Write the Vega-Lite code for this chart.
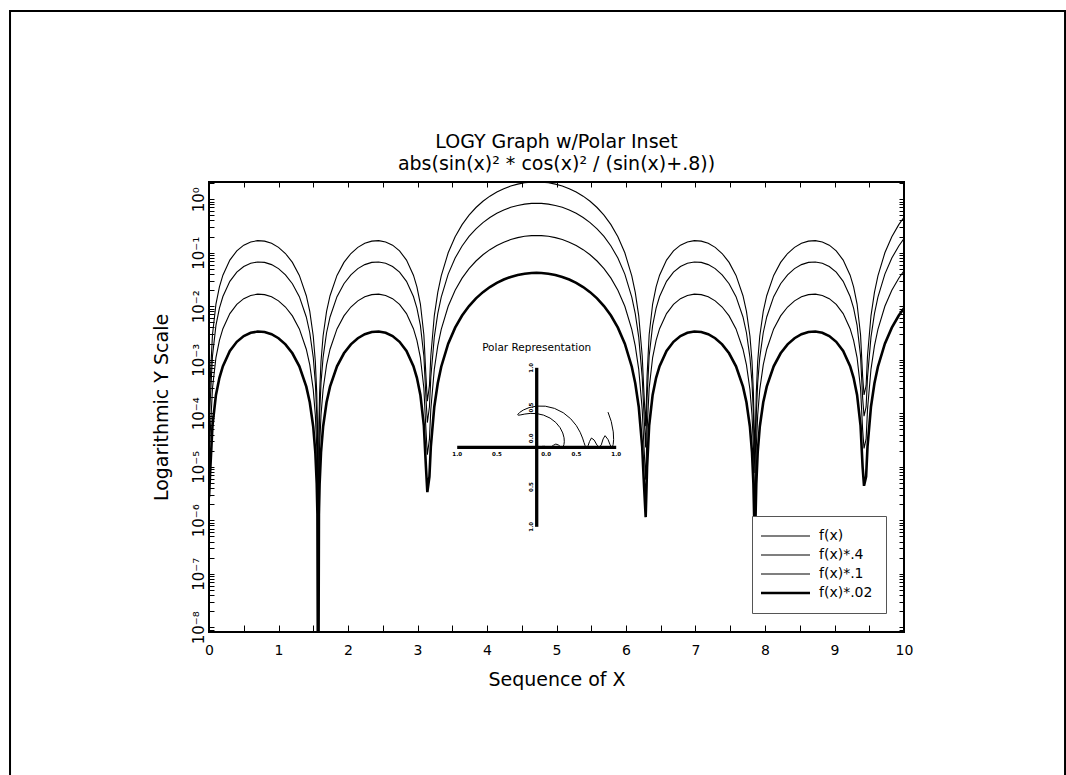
{
  "$schema": "https://vega.github.io/schema/vega-lite/v6.json",
  "width": 695,
  "height": 450,
  "autosize": {"type": "none"},
  "padding": {"left": 209, "top": 182, "right": 162, "bottom": 143},
  "background": "white",
  "config": {
    "view": {"stroke": "black", "strokeWidth": 2},
    "font": "DejaVu Sans",
    "axis": {"grid": false, "domain": false, "tickColor": "black", "tickWidth": 1, "labelColor": "black", "titleColor": "black", "titleFontWeight": "normal", "labelFont": "DejaVu Sans", "titleFont": "DejaVu Sans"},
    "text": {"font": "DejaVu Sans", "color": "black"}
  },
  "title": {
    "text": ["LOGY Graph w/Polar Inset", "abs(sin(x)² * cos(x)² / (sin(x)+.8))"],
    "fontSize": 19, "font": "DejaVu Sans", "fontWeight": "normal", "color": "black",
    "lineHeight": 22, "offset": -164, "anchor": "middle", "frame": "group"
  },
  "datasets": {
    "main": [
      {"x":0,"a":1.35e-4,"b":5.4e-5,"c":1.35e-5,"d":2.7e-6},
      {"x":0.02,"a":4.88e-4,"b":1.952e-4,"c":4.88e-5,"d":9.76e-6},
      {"x":0.05,"a":0.002932,"b":0.001173,"c":2.932e-4,"d":5.864e-5},
      {"x":0.1,"a":0.01097,"b":0.004386,"c":0.001097,"d":2.193e-4},
      {"x":0.15,"a":0.023,"b":0.0092,"c":0.0023,"d":4.6e-4},
      {"x":0.2,"a":0.03796,"b":0.01519,"c":0.003796,"d":7.593e-4},
      {"x":0.3,"a":0.07276,"b":0.0291,"c":0.007276,"d":0.001455},
      {"x":0.4,"a":0.1082,"b":0.04326,"c":0.01082,"d":0.002163},
      {"x":0.5,"a":0.1384,"b":0.05534,"c":0.01384,"d":0.002767},
      {"x":0.6,"a":0.1591,"b":0.06366,"c":0.01591,"d":0.003183},
      {"x":0.7,"a":0.1681,"b":0.06724,"c":0.01681,"d":0.003362},
      {"x":0.8,"a":0.1646,"b":0.06585,"c":0.01646,"d":0.003292},
      {"x":0.9,"a":0.1497,"b":0.0599,"c":0.01497,"d":0.002995},
      {"x":1.0,"a":0.1259,"b":0.05037,"c":0.01259,"d":0.002519},
      {"x":1.1,"a":0.09663,"b":0.03865,"c":0.009663,"d":0.001933},
      {"x":1.2,"a":0.06586,"b":0.02634,"c":0.006586,"d":0.001317},
      {"x":1.3,"a":0.03767,"b":0.01507,"c":0.003767,"d":7.534e-4},
      {"x":1.4,"a":0.01571,"b":0.006285,"c":0.001571,"d":3.143e-4},
      {"x":1.45,"a":0.007986,"b":0.003194,"c":7.986e-4,"d":1.597e-4},
      {"x":1.5,"a":0.00277,"b":0.001108,"c":2.77e-4,"d":5.54e-5},
      {"x":1.53,"a":9.23e-4,"b":3.692e-4,"c":9.23e-5,"d":1.846e-5},
      {"x":1.55,"a":2.401e-4,"b":9.604e-5,"c":2.401e-5,"d":4.802e-6},
      {"x":1.56,"a":6.47e-5,"b":2.588e-5,"c":6.47e-6,"d":1.294e-6},
      {"x":1.5708,"a":1e-9,"b":4e-10,"c":1e-10,"d":2e-11},
      {"x":1.5816,"a":6.47e-5,"b":2.588e-5,"c":6.47e-6,"d":1.294e-6},
      {"x":1.5916,"a":2.401e-4,"b":9.604e-5,"c":2.401e-5,"d":4.802e-6},
      {"x":1.6116,"a":9.23e-4,"b":3.692e-4,"c":9.23e-5,"d":1.846e-5},
      {"x":1.6416,"a":0.00277,"b":0.001108,"c":2.77e-4,"d":5.54e-5},
      {"x":1.6916,"a":0.007986,"b":0.003194,"c":7.986e-4,"d":1.597e-4},
      {"x":1.7416,"a":0.01571,"b":0.006285,"c":0.001571,"d":3.143e-4},
      {"x":1.8416,"a":0.03767,"b":0.01507,"c":0.003767,"d":7.534e-4},
      {"x":1.9416,"a":0.06586,"b":0.02634,"c":0.006586,"d":0.001317},
      {"x":2.0416,"a":0.09663,"b":0.03865,"c":0.009663,"d":0.001933},
      {"x":2.1416,"a":0.1259,"b":0.05037,"c":0.01259,"d":0.002519},
      {"x":2.2416,"a":0.1497,"b":0.0599,"c":0.01497,"d":0.002995},
      {"x":2.3416,"a":0.1646,"b":0.06585,"c":0.01646,"d":0.003292},
      {"x":2.4416,"a":0.1681,"b":0.06724,"c":0.01681,"d":0.003362},
      {"x":2.5416,"a":0.1591,"b":0.06366,"c":0.01591,"d":0.003183},
      {"x":2.6416,"a":0.1384,"b":0.05534,"c":0.01384,"d":0.002767},
      {"x":2.7416,"a":0.1082,"b":0.04326,"c":0.01082,"d":0.002163},
      {"x":2.8416,"a":0.07276,"b":0.0291,"c":0.007276,"d":0.001455},
      {"x":2.9416,"a":0.03796,"b":0.01519,"c":0.003796,"d":7.593e-4},
      {"x":2.9916,"a":0.023,"b":0.0092,"c":0.0023,"d":4.6e-4},
      {"x":3.0416,"a":0.01097,"b":0.004386,"c":0.001097,"d":2.193e-4},
      {"x":3.0916,"a":0.002932,"b":0.001173,"c":2.932e-4,"d":5.864e-5},
      {"x":3.1216,"a":4.88e-4,"b":1.952e-4,"c":4.88e-5,"d":9.76e-6},
      {"x":3.1416,"a":1.67e-4,"b":6.68e-5,"c":1.67e-5,"d":3.34e-6},
      {"x":3.1716,"a":3.27e-4,"b":1.308e-4,"c":3.27e-5,"d":6.54e-6},
      {"x":3.1916,"a":0.001173,"b":4.692e-4,"c":1.173e-4,"d":2.346e-5},
      {"x":3.2416,"a":0.006613,"b":0.002645,"c":6.613e-4,"d":1.323e-4},
      {"x":3.2916,"a":0.01813,"b":0.007252,"c":0.001813,"d":3.626e-4},
      {"x":3.3416,"a":0.03695,"b":0.01478,"c":0.003695,"d":7.39e-4},
      {"x":3.4416,"a":0.0997,"b":0.03988,"c":0.00997,"d":0.001994},
      {"x":3.5416,"a":0.1987,"b":0.07949,"c":0.01987,"d":0.003975},
      {"x":3.6416,"a":0.3342,"b":0.1337,"c":0.03342,"d":0.006684},
      {"x":3.7416,"a":0.5031,"b":0.2012,"c":0.05031,"d":0.01006},
      {"x":3.8416,"a":0.6995,"b":0.2798,"c":0.06995,"d":0.01399},
      {"x":3.9416,"a":0.9153,"b":0.3661,"c":0.09153,"d":0.01831},
      {"x":4.0416,"a":1.14,"b":0.4562,"c":0.114,"d":0.02281},
      {"x":4.1416,"a":1.364,"b":0.5456,"c":0.1364,"d":0.02728},
      {"x":4.2416,"a":1.575,"b":0.6298,"c":0.1575,"d":0.03149},
      {"x":4.3416,"a":1.761,"b":0.7045,"c":0.1761,"d":0.03522},
      {"x":4.4416,"a":1.914,"b":0.7656,"c":0.1914,"d":0.03828},
      {"x":4.5416,"a":2.024,"b":0.8098,"c":0.2024,"d":0.04049},
      {"x":4.6416,"a":2.087,"b":0.8347,"c":0.2087,"d":0.04174},
      {"x":4.7124,"a":2.1,"b":0.84,"c":0.21,"d":0.042},
      {"x":4.7832,"a":2.087,"b":0.8347,"c":0.2087,"d":0.04174},
      {"x":4.8832,"a":2.024,"b":0.8098,"c":0.2024,"d":0.04049},
      {"x":4.9832,"a":1.914,"b":0.7656,"c":0.1914,"d":0.03828},
      {"x":5.0832,"a":1.761,"b":0.7045,"c":0.1761,"d":0.03522},
      {"x":5.1832,"a":1.575,"b":0.6298,"c":0.1575,"d":0.03149},
      {"x":5.2832,"a":1.364,"b":0.5456,"c":0.1364,"d":0.02728},
      {"x":5.3832,"a":1.14,"b":0.4562,"c":0.114,"d":0.02281},
      {"x":5.4832,"a":0.9153,"b":0.3661,"c":0.09153,"d":0.01831},
      {"x":5.5832,"a":0.6995,"b":0.2798,"c":0.06995,"d":0.01399},
      {"x":5.6832,"a":0.5031,"b":0.2012,"c":0.05031,"d":0.01006},
      {"x":5.7832,"a":0.3342,"b":0.1337,"c":0.03342,"d":0.006684},
      {"x":5.8832,"a":0.1987,"b":0.07949,"c":0.01987,"d":0.003975},
      {"x":5.9832,"a":0.0997,"b":0.03988,"c":0.00997,"d":0.001994},
      {"x":6.0832,"a":0.03695,"b":0.01478,"c":0.003695,"d":7.39e-4},
      {"x":6.1332,"a":0.01813,"b":0.007252,"c":0.001813,"d":3.626e-4},
      {"x":6.1832,"a":0.006613,"b":0.002645,"c":6.613e-4,"d":1.323e-4},
      {"x":6.2332,"a":0.001173,"b":4.692e-4,"c":1.173e-4,"d":2.346e-5},
      {"x":6.2532,"a":3.27e-4,"b":1.308e-4,"c":3.27e-5,"d":6.54e-6},
      {"x":6.2832,"a":5.7e-5,"b":2.28e-5,"c":5.7e-6,"d":1.14e-6},
      {"x":6.3032,"a":4.88e-4,"b":1.952e-4,"c":4.88e-5,"d":9.76e-6},
      {"x":6.3332,"a":0.002932,"b":0.001173,"c":2.932e-4,"d":5.864e-5},
      {"x":6.3832,"a":0.01097,"b":0.004386,"c":0.001097,"d":2.193e-4},
      {"x":6.4332,"a":0.023,"b":0.0092,"c":0.0023,"d":4.6e-4},
      {"x":6.4832,"a":0.03796,"b":0.01519,"c":0.003796,"d":7.593e-4},
      {"x":6.5832,"a":0.07276,"b":0.0291,"c":0.007276,"d":0.001455},
      {"x":6.6832,"a":0.1082,"b":0.04326,"c":0.01082,"d":0.002163},
      {"x":6.7832,"a":0.1384,"b":0.05534,"c":0.01384,"d":0.002767},
      {"x":6.8832,"a":0.1591,"b":0.06366,"c":0.01591,"d":0.003183},
      {"x":6.9832,"a":0.1681,"b":0.06724,"c":0.01681,"d":0.003362},
      {"x":7.0832,"a":0.1646,"b":0.06585,"c":0.01646,"d":0.003292},
      {"x":7.1832,"a":0.1497,"b":0.0599,"c":0.01497,"d":0.002995},
      {"x":7.2832,"a":0.1259,"b":0.05037,"c":0.01259,"d":0.002519},
      {"x":7.3832,"a":0.09663,"b":0.03865,"c":0.009663,"d":0.001933},
      {"x":7.4832,"a":0.06586,"b":0.02634,"c":0.006586,"d":0.001317},
      {"x":7.5832,"a":0.03767,"b":0.01507,"c":0.003767,"d":7.534e-4},
      {"x":7.6832,"a":0.01571,"b":0.006285,"c":0.001571,"d":3.143e-4},
      {"x":7.7332,"a":0.007986,"b":0.003194,"c":7.986e-4,"d":1.597e-4},
      {"x":7.7832,"a":0.00277,"b":0.001108,"c":2.77e-4,"d":5.54e-5},
      {"x":7.8132,"a":9.23e-4,"b":3.692e-4,"c":9.23e-5,"d":1.846e-5},
      {"x":7.8332,"a":2.401e-4,"b":9.604e-5,"c":2.401e-5,"d":4.802e-6},
      {"x":7.8432,"a":6.47e-5,"b":2.588e-5,"c":6.47e-6,"d":1.294e-6},
      {"x":7.854,"a":1.9e-5,"b":7.6e-6,"c":1.9e-6,"d":3.8e-7},
      {"x":7.8648,"a":6.47e-5,"b":2.588e-5,"c":6.47e-6,"d":1.294e-6},
      {"x":7.8748,"a":2.401e-4,"b":9.604e-5,"c":2.401e-5,"d":4.802e-6},
      {"x":7.8948,"a":9.23e-4,"b":3.692e-4,"c":9.23e-5,"d":1.846e-5},
      {"x":7.9248,"a":0.00277,"b":0.001108,"c":2.77e-4,"d":5.54e-5},
      {"x":7.9748,"a":0.007986,"b":0.003194,"c":7.986e-4,"d":1.597e-4},
      {"x":8.0248,"a":0.01571,"b":0.006285,"c":0.001571,"d":3.143e-4},
      {"x":8.1248,"a":0.03767,"b":0.01507,"c":0.003767,"d":7.534e-4},
      {"x":8.2248,"a":0.06586,"b":0.02634,"c":0.006586,"d":0.001317},
      {"x":8.3248,"a":0.09663,"b":0.03865,"c":0.009663,"d":0.001933},
      {"x":8.4248,"a":0.1259,"b":0.05037,"c":0.01259,"d":0.002519},
      {"x":8.5248,"a":0.1497,"b":0.0599,"c":0.01497,"d":0.002995},
      {"x":8.6248,"a":0.1646,"b":0.06585,"c":0.01646,"d":0.003292},
      {"x":8.7248,"a":0.1681,"b":0.06724,"c":0.01681,"d":0.003362},
      {"x":8.8248,"a":0.1591,"b":0.06366,"c":0.01591,"d":0.003183},
      {"x":8.9248,"a":0.1384,"b":0.05534,"c":0.01384,"d":0.002767},
      {"x":9.0248,"a":0.1082,"b":0.04326,"c":0.01082,"d":0.002163},
      {"x":9.1248,"a":0.07276,"b":0.0291,"c":0.007276,"d":0.001455},
      {"x":9.2248,"a":0.03796,"b":0.01519,"c":0.003796,"d":7.593e-4},
      {"x":9.2748,"a":0.023,"b":0.0092,"c":0.0023,"d":4.6e-4},
      {"x":9.3248,"a":0.01097,"b":0.004386,"c":0.001097,"d":2.193e-4},
      {"x":9.3748,"a":0.002932,"b":0.001173,"c":2.932e-4,"d":5.864e-5},
      {"x":9.4048,"a":4.88e-4,"b":1.952e-4,"c":4.88e-5,"d":9.76e-6},
      {"x":9.4248,"a":2.2e-4,"b":8.8e-5,"c":2.2e-5,"d":4.4e-6},
      {"x":9.4548,"a":3.27e-4,"b":1.308e-4,"c":3.27e-5,"d":6.54e-6},
      {"x":9.4748,"a":0.001173,"b":4.692e-4,"c":1.173e-4,"d":2.346e-5},
      {"x":9.5248,"a":0.006613,"b":0.002645,"c":6.613e-4,"d":1.323e-4},
      {"x":9.5748,"a":0.01813,"b":0.007252,"c":0.001813,"d":3.626e-4},
      {"x":9.6248,"a":0.03695,"b":0.01478,"c":0.003695,"d":7.39e-4},
      {"x":9.7248,"a":0.0997,"b":0.03988,"c":0.00997,"d":0.001994},
      {"x":9.8248,"a":0.1987,"b":0.07949,"c":0.01987,"d":0.003975},
      {"x":9.9248,"a":0.3342,"b":0.1337,"c":0.03342,"d":0.006684},
      {"x":10,"a":0.4584,"b":0.1834,"c":0.04584,"d":0.009168}
    ],
    "polar": [
      {"i":0,"px":0,"py":0},{"i":1,"px":0.02,"py":0.0008},{"i":2,"px":0.0398,"py":0.0043},
      {"i":3,"px":0.069,"py":0.0118},{"i":4,"px":0.0992,"py":0.0126},{"i":5,"px":0.13,"py":0.0049},
      {"i":6,"px":0.157,"py":0},{"i":7,"px":0.184,"py":0.0069},{"i":8,"px":0.2123,"py":0.027},
      {"i":9,"px":0.2406,"py":0.041},{"i":10,"px":0.2724,"py":0.0296},{"i":11,"px":0.2938,"py":0.0112},
      {"i":12,"px":0.3142,"py":0},{"i":13,"px":0.3241,"py":0.0021},{"i":14,"px":0.3339,"py":0.0124},
      {"i":15,"px":0.3424,"py":0.0343},{"i":16,"px":0.3472,"py":0.0699},{"i":17,"px":0.344,"py":0.1195},
      {"i":18,"px":0.3278,"py":0.1804},{"i":19,"px":0.2939,"py":0.2473},{"i":20,"px":0.2403,"py":0.3125},
      {"i":21,"px":0.1686,"py":0.3673},{"i":22,"px":0.085,"py":0.4053},{"i":23,"px":-0.0016,"py":0.4242},
      {"i":24,"px":-0.0822,"py":0.4263},{"i":25,"px":-0.1494,"py":0.4183},{"i":26,"px":-0.199,"py":0.4082},
      {"i":27,"px":-0.229,"py":0.4037},{"i":28,"px":-0.2379,"py":0.4068},{"i":29,"px":-0.236,"py":0.416},
      {"i":30,"px":-0.214,"py":0.4389},{"i":31,"px":-0.1676,"py":0.4693},{"i":32,"px":-0.0962,"py":0.4991},
      {"i":33,"px":-0.002,"py":0.5183},{"i":34,"px":0.1085,"py":0.5171},{"i":35,"px":0.2245,"py":0.4893},
      {"i":36,"px":0.3342,"py":0.4347},{"i":37,"px":0.4272,"py":0.3595},{"i":38,"px":0.4979,"py":0.274},
      {"i":39,"px":0.5463,"py":0.1897},{"i":40,"px":0.5767,"py":0.1161},{"i":41,"px":0.5953,"py":0.0596},
      {"i":42,"px":0.6079,"py":0.0225},{"i":43,"px":0.6183,"py":0.0041},{"i":44,"px":0.6283,"py":0},
      {"i":45,"px":0.6383,"py":0.007},{"i":46,"px":0.6478,"py":0.0246},{"i":47,"px":0.6644,"py":0.0721},
      {"i":48,"px":0.6885,"py":0.1169},{"i":49,"px":0.7225,"py":0.0915},{"i":50,"px":0.7578,"py":0.0286},
      {"i":51,"px":0.7854,"py":0},{"i":52,"px":0.8119,"py":0.0306},{"i":53,"px":0.8358,"py":0.1058},
      {"i":54,"px":0.8602,"py":0.1462},{"i":55,"px":0.8972,"py":0.0975},{"i":56,"px":0.9218,"py":0.0351},
      {"i":57,"px":0.9324,"py":0.0103},{"i":58,"px":0.9425,"py":0},{"i":59,"px":0.9525,"py":0.0063},
      {"i":60,"px":0.9618,"py":0.0356},{"i":61,"px":0.9677,"py":0.0968},{"i":62,"px":0.9631,"py":0.1939},
      {"i":63,"px":0.9376,"py":0.3255},{"i":64,"px":0.8968,"py":0.4425}
    ],
    "iaxes": [
      {"x1":-1,"x2":1,"y1":0,"y2":0},
      {"x1":0,"x2":0,"y1":-1,"y2":1}
    ],
    "ilabels": [
      {"v":-1,"t":"1.0"},{"v":-0.5,"t":"0.5"},{"v":0.5,"t":"0.5"},{"v":1,"t":"1.0"}
    ]
  },
  "layer": [
    {
      "data": {"name": "main"},
      "transform": [{"fold": ["a", "b", "c", "d"], "as": ["series", "y"]}],
      "mark": {"type": "line", "clip": true},
      "encoding": {
        "x": {
          "field": "x", "type": "quantitative",
          "scale": {"domain": [0, 10], "nice": false, "zero": false},
          "axis": {
            "orient": "bottom",
            "values": [0,0.5,1,1.5,2,2.5,3,3.5,4,4.5,5,5.5,6,6.5,7,7.5,8,8.5,9,9.5,10],
            "labelExpr": "datum.value % 1 == 0 ? '' + datum.value : ''",
            "tickSize": -7, "labelPadding": 18, "labelFontSize": 14,
            "labelOverlap": false, "labelFlush": false,
            "title": "Sequence of X", "titleFontSize": 19, "titlePadding": 13
          }
        },
        "y": {
          "field": "y", "type": "quantitative",
          "scale": {"type": "log", "domain": [8.14e-9, 2.097], "nice": false},
          "axis": {
            "orient": "left",
            "values": [9e-9,1e-8,2e-8,3e-8,4e-8,5e-8,6e-8,7e-8,8e-8,9e-8,1e-7,2e-7,3e-7,4e-7,5e-7,6e-7,7e-7,8e-7,9e-7,1e-6,2e-6,3e-6,4e-6,5e-6,6e-6,7e-6,8e-6,9e-6,1e-5,2e-5,3e-5,4e-5,5e-5,6e-5,7e-5,8e-5,9e-5,1e-4,2e-4,3e-4,4e-4,5e-4,6e-4,7e-4,8e-4,9e-4,0.001,0.002,0.003,0.004,0.005,0.006,0.007,0.008,0.009,0.01,0.02,0.03,0.04,0.05,0.06,0.07,0.08,0.09,0.1,0.2,0.3,0.4,0.5,0.6,0.7,0.8,0.9,1,2],
            "labelExpr": "abs(log(datum.value)/LN10 - round(log(datum.value)/LN10)) < 0.001 ? '10' + (round(log(datum.value)/LN10) < 0 ? '⁻' : '') + substring('⁰¹²³⁴⁵⁶⁷⁸⁹', abs(round(log(datum.value)/LN10)), abs(round(log(datum.value)/LN10)) + 1) : ''",
            "labelAngle": -90, "labelAlign": "center", "labelBaseline": "alphabetic",
            "tickSize": -5, "labelPadding": 11, "labelFontSize": 15,
            "labelOverlap": false, "labelFlush": false,
            "title": "Logarithmic Y Scale", "titleFontSize": 19, "titlePadding": 20
          }
        },
        "color": {
          "field": "series", "type": "nominal",
          "scale": {"domain": ["a", "b", "c", "d"], "range": ["black", "black", "black", "black"]},
          "legend": {
            "orient": "none", "legendX": 543, "legendY": 334, "title": null,
            "fillColor": "white", "strokeColor": "#555", "padding": 13,
            "symbolType": "stroke", "symbolSize": 2401, "symbolStrokeColor": "black",
            "symbolStrokeWidth": {"expr": "datum.value == 'd' ? 2.6 : 1.1"},
            "symbolOffset": 13.5,
            "labelFontSize": 14, "labelFont": "DejaVu Sans", "labelColor": "black",
            "labelOffset": 26.5, "rowPadding": 5,
            "labelExpr": "datum.label == 'a' ? 'f(x)' : datum.label == 'b' ? 'f(x)*.4' : datum.label == 'c' ? 'f(x)*.1' : 'f(x)*.02'"
          }
        },
        "strokeWidth": {"condition": {"test": "datum.series == 'd'", "value": 2.6}, "value": 1.1}
      }
    },
    {
      "data": {"values": [{}]},
      "mark": {"type": "rect", "filled": false, "color": "black", "strokeWidth": 2, "clip": false},
      "encoding": {
        "x": {
          "datum": -2.863, "type": "quantitative",
          "scale": {"domain": [0, 10], "nice": false, "zero": false},
          "axis": {"orient": "top", "values": [0,0.5,1,1.5,2,2.5,3,3.5,4,4.5,5,5.5,6,6.5,7,7.5,8,8.5,9,9.5,10], "labels": false, "tickSize": -5, "title": null}
        },
        "x2": {"datum": 12.317},
        "y": {
          "datum": 3296, "type": "quantitative",
          "scale": {"type": "log", "domain": [8.14e-9, 2.097], "nice": false},
          "axis": {"orient": "right", "values": [9e-9,1e-8,2e-8,3e-8,4e-8,5e-8,6e-8,7e-8,8e-8,9e-8,1e-7,2e-7,3e-7,4e-7,5e-7,6e-7,7e-7,8e-7,9e-7,1e-6,2e-6,3e-6,4e-6,5e-6,6e-6,7e-6,8e-6,9e-6,1e-5,2e-5,3e-5,4e-5,5e-5,6e-5,7e-5,8e-5,9e-5,1e-4,2e-4,3e-4,4e-4,5e-4,6e-4,7e-4,8e-4,9e-4,0.001,0.002,0.003,0.004,0.005,0.006,0.007,0.008,0.009,0.01,0.02,0.03,0.04,0.05,0.06,0.07,0.08,0.09,0.1,0.2,0.3,0.4,0.5,0.6,0.7,0.8,0.9,1,2], "labels": false, "tickSize": -5, "title": null}
        },
        "y2": {"datum": 9e-12}
      }
    },
    {
      "layer": [
        {
          "data": {"name": "polar"},
          "mark": {"type": "line", "color": "black", "strokeWidth": 1},
          "encoding": {
            "x": {"field": "px", "type": "quantitative", "scale": {"domain": [-4.122, 4.62], "nice": false, "zero": false}, "axis": null},
            "y": {"field": "py", "type": "quantitative", "scale": {"domain": [-2.323, 3.337], "nice": false, "zero": false}, "axis": null},
            "order": {"field": "i", "type": "quantitative"}
          }
        },
        {
          "data": {"name": "iaxes"},
          "mark": {"type": "rule", "color": "black", "strokeWidth": 3.3},
          "encoding": {
            "x": {"field": "x1", "type": "quantitative", "scale": {"domain": [-4.122, 4.62], "nice": false, "zero": false}, "axis": null},
            "x2": {"field": "x2"},
            "y": {"field": "y1", "type": "quantitative", "scale": {"domain": [-2.323, 3.337], "nice": false, "zero": false}, "axis": null},
            "y2": {"field": "y2"}
          }
        },
        {
          "data": {"name": "ilabels"},
          "mark": {"type": "text", "fontSize": 5.5, "fontWeight": "bold", "align": "center", "baseline": "middle", "dy": 7},
          "encoding": {
            "x": {"field": "v", "type": "quantitative", "scale": {"domain": [-4.122, 4.62], "nice": false, "zero": false}, "axis": null},
            "y": {"datum": 0, "type": "quantitative", "scale": {"domain": [-2.323, 3.337], "nice": false, "zero": false}, "axis": null},
            "text": {"field": "t"}
          }
        },
        {
          "data": {"name": "ilabels"},
          "mark": {"type": "text", "fontSize": 5.5, "fontWeight": "bold", "align": "center", "baseline": "middle", "angle": 270, "dx": 0, "dy": -6},
          "encoding": {
            "x": {"datum": 0, "type": "quantitative", "scale": {"domain": [-4.122, 4.62], "nice": false, "zero": false}, "axis": null},
            "y": {"field": "v", "type": "quantitative", "scale": {"domain": [-2.323, 3.337], "nice": false, "zero": false}, "axis": null},
            "text": {"field": "t"}
          }
        },
        {
          "data": {"values": [{}]},
          "mark": {"type": "text", "fontSize": 5.5, "fontWeight": "bold", "align": "center", "baseline": "middle", "dx": 9.4, "dy": 7},
          "encoding": {
            "x": {"datum": 0, "type": "quantitative", "scale": {"domain": [-4.122, 4.62], "nice": false, "zero": false}, "axis": null},
            "y": {"datum": 0, "type": "quantitative", "scale": {"domain": [-2.323, 3.337], "nice": false, "zero": false}, "axis": null},
            "text": {"value": "0.0"}
          }
        },
        {
          "data": {"values": [{}]},
          "mark": {"type": "text", "fontSize": 5.5, "fontWeight": "bold", "align": "center", "baseline": "middle", "angle": 270, "dx": 9, "dy": -6},
          "encoding": {
            "x": {"datum": 0, "type": "quantitative", "scale": {"domain": [-4.122, 4.62], "nice": false, "zero": false}, "axis": null},
            "y": {"datum": 0, "type": "quantitative", "scale": {"domain": [-2.323, 3.337], "nice": false, "zero": false}, "axis": null},
            "text": {"value": "0.0"}
          }
        },
        {
          "data": {"values": [{}]},
          "mark": {"type": "text", "fontSize": 10.5, "align": "center", "baseline": "middle", "dy": -19.5},
          "encoding": {
            "x": {"datum": 0, "type": "quantitative", "scale": {"domain": [-4.122, 4.62], "nice": false, "zero": false}, "axis": null},
            "y": {"datum": 1, "type": "quantitative", "scale": {"domain": [-2.323, 3.337], "nice": false, "zero": false}, "axis": null},
            "text": {"value": "Polar Representation"}
          }
        }
      ]
    }
  ],
  "resolve": {
    "scale": {"x": "independent", "y": "independent"},
    "axis": {"x": "independent", "y": "independent"}
  }
}
